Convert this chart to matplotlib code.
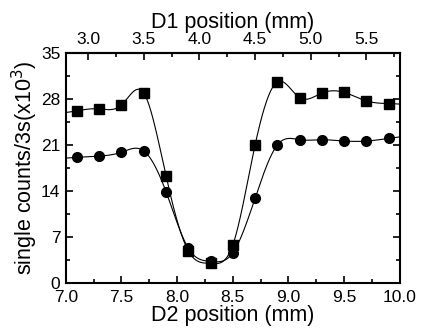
import numpy as np
import matplotlib
matplotlib.use("Agg")
import matplotlib.pyplot as plt
from matplotlib.ticker import MultipleLocator

plt.rcParams['font.family'] = ['Liberation Sans', 'DejaVu Sans']

# D2 positions (mm)
d2_pos = [7.1, 7.3, 7.5, 7.7, 7.9, 8.1, 8.3, 8.5, 8.7, 8.9, 9.1, 9.3, 9.5, 9.7, 9.9]
# single counts (x10^3)
squares = [26.2, 26.5, 27.1, 28.9, 16.3, 4.9, 3.0, 5.8, 21.0, 30.6, 28.2, 28.9, 29.0, 27.7, 27.3]
circles = [19.1, 19.3, 19.9, 20.1, 13.9, 5.3, 3.3, 4.6, 12.9, 21.0, 21.8, 21.8, 21.6, 21.6, 22.0]
d1_offset = 4.2


def natural_spline(x, y, xs):
    # natural cubic spline, evaluated on xs (end pieces extended)
    x = np.asarray(x, float)
    y = np.asarray(y, float)
    n = len(x)
    h = np.diff(x)
    A = np.zeros((n, n))
    b = np.zeros(n)
    A[0, 0] = A[-1, -1] = 1
    for i in range(1, n - 1):
        A[i, i - 1] = h[i - 1]
        A[i, i] = 2 * (h[i - 1] + h[i])
        A[i, i + 1] = h[i]
        b[i] = 3 * ((y[i + 1] - y[i]) / h[i] - (y[i] - y[i - 1]) / h[i - 1])
    c = np.linalg.solve(A, b)
    bb = (y[1:] - y[:-1]) / h - h * (2 * c[:-1] + c[1:]) / 3
    d = (c[1:] - c[:-1]) / (3 * h)
    idx = np.clip(np.searchsorted(x, xs) - 1, 0, n - 2)
    dx = xs - x[idx]
    return y[idx] + bb[idx] * dx + c[idx] * dx ** 2 + d[idx] * dx ** 3


fig = plt.figure(figsize=(4.36, 3.33), dpi=100)
ax = fig.add_axes([0.151, 0.150, 0.766, 0.691])

xs = np.linspace(7.0, 10.0, 600)
ax.plot(xs, natural_spline(d2_pos, squares, xs), color='black', lw=0.8)
ax.plot(xs, natural_spline(d2_pos, circles, xs), color='black', lw=0.8)
ax.plot(d2_pos, squares, 's', color='black', ms=6.5, ls='none')
ax.plot(d2_pos, circles, 'o', color='black', ms=7, ls='none')

ax.set_xlim(7.0, 10.0)
ax.set_ylim(0, 35)
ax.xaxis.set_major_locator(MultipleLocator(0.5))
ax.xaxis.set_minor_locator(MultipleLocator(0.25))
ax.yaxis.set_major_locator(MultipleLocator(7))
ax.yaxis.set_minor_locator(MultipleLocator(3.5))
ax.tick_params(which='both', direction='in', right=True, labelsize=12.5, width=1.2)
ax.tick_params(which='major', length=5)
ax.tick_params(axis='x', which='major', pad=5)
ax.tick_params(axis='y', which='major', pad=4)
ax.tick_params(which='minor', length=3)
ax.xaxis.set_major_formatter(matplotlib.ticker.FormatStrFormatter('%.1f'))
for s in ax.spines.values():
    s.set_linewidth(1.5)

ax.set_xlabel('D2 position (mm)', fontsize=15.5, labelpad=0)
ax.set_ylabel('single counts/3s(x10$^3$)', fontsize=15.5, labelpad=1)

top = ax.secondary_xaxis('top', functions=(lambda v: v - d1_offset, lambda v: v + d1_offset))
top.xaxis.set_major_locator(MultipleLocator(0.5))
top.xaxis.set_minor_locator(MultipleLocator(0.25))
top.xaxis.set_major_formatter(matplotlib.ticker.FormatStrFormatter('%.1f'))
top.tick_params(which='both', direction='in', labelsize=12.5, width=1.2)
top.tick_params(which='major', length=5, pad=4)
top.tick_params(which='minor', length=3)
top.spines['top'].set_linewidth(1.5)
top.set_xlabel('D1 position (mm)', fontsize=15.5, labelpad=3)

fig.savefig('out.png', dpi=100)
